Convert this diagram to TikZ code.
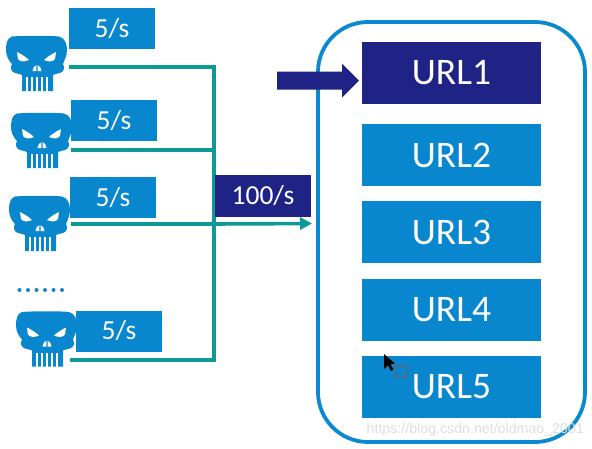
\documentclass[tikz,border=0pt]{standalone}
\usepackage{fontspec}
\setmainfont{Carlito}
\setsansfont{Liberation Sans}
\usetikzlibrary{arrows.meta}
\definecolor{bluebox}{HTML}{0887CE}
\definecolor{navybox}{HTML}{1F2385}
\definecolor{tealline}{HTML}{0D9A96}
\definecolor{frameblue}{HTML}{0A88D0}
\tikzset{
  x=1pt,y=-1pt,
  ratebox/.style={fill=bluebox,draw=none,minimum width=86pt,minimum height=41pt,inner sep=0pt,text=white,font=\fontsize{27.5}{30}\selectfont},
  urlbox/.style={fill=bluebox,draw=none,minimum width=179pt,minimum height=62pt,inner sep=0pt,text=white,font=\fontsize{37.5}{40}\selectfont},
  tealwire/.style={draw=tealline,line width=3.6pt},
  skull/.pic={
    \fill[bluebox] (6,0.5) .. controls (18,-0.5) and (44,-0.5) .. (53,0.5)
      .. controls (59,2) and (61,8) .. (61,14)
      .. controls (61,20) and (58,25) .. (57,28)
      .. controls (59,31) and (58,36) .. (54,37)
      .. controls (51,38) and (48,38) .. (47,39)
      -- (47,55) -- (16,55) -- (16,39)
      .. controls (15,38) and (12,38) .. (9,37)
      .. controls (5,36) and (4,31) .. (6,28)
      .. controls (3,25) and (0,20) .. (0,14)
      .. controls (0,8) and (1,2) .. (6,0.5) -- cycle;
    \fill[white] (11,16) .. controls (15,18) and (20,21) .. (23,24) .. controls (19,26) and (14,26) .. (12,23) -- cycle;
    \fill[white] (50,16) .. controls (46,18) and (41,21) .. (38,24) .. controls (42,26) and (47,26) .. (49,23) -- cycle;
    \fill[white] (30.3,29) -- (30.3,35) -- (26.5,35) .. controls (26.5,33) and (28,30) .. (30.3,29) -- cycle;
    \fill[white] (31.7,29) -- (31.7,35) -- (35.5,35) .. controls (35.5,33) and (34,30) .. (31.7,29) -- cycle;
    \foreach \tx in {21,26,31,36,41}{\fill[white] (\tx-0.7,41) rectangle (\tx+0.7,55.5);}
  }
}
\begin{document}
\begin{tikzpicture}
\useasboundingbox (0,0) rectangle (592,448);
\fill[white] (0,0) rectangle (592,448);

% outer frame
\node[draw=frameblue,line width=3.8pt,rounded corners=50pt,minimum width=267pt,minimum height=420pt,inner sep=0pt] (frame) at (451.5,232) {};

% wires
\coordinate (w1) at (69,67);
\coordinate (w2) at (71,150);
\coordinate (w3) at (71,224);
\coordinate (w4) at (70,360);
\coordinate (j1) at (214,67);
\coordinate (j2) at (214,150);
\coordinate (j3) at (214,224);
\coordinate (j4) at (214,360);
\coordinate (out) at (312,223.5);
\draw[tealwire,line join=miter] (w1) -- (j1) -- (j4) -- (w4);
\draw[tealwire] (w2) -- (j2);
\draw[tealwire] (w3) -- (j3);
\draw[tealline,line width=3.6pt,-{Triangle[length=12pt,width=12pt]}] (j3) -- (out);

% skulls
\pic at (6,36) {skull};
\pic at (11,113) {skull};
\pic at (9,196) {skull};
\pic at (16,311.5) {skull};

% rate boxes
\node[ratebox] (r1) at (112,28.5) {5/s};
\node[ratebox] (r2) at (114,120.5) {5/s};
\node[ratebox] (r3) at (113,197.5) {5/s};
\node[ratebox] (r4) at (119,331) {5/s};
\node[ratebox,fill=navybox,minimum width=96pt,minimum height=42pt] (total) at (263,196) {100/s};

% dots
\foreach \dx in {19.5,28,36.5,45,53.5,62}{\fill[frameblue] (\dx,290) circle (2pt);}

% url boxes
\node[urlbox,fill=navybox] (u1) at (451.5,73) {URL1};
\node[urlbox] (u2) at (451.5,155) {URL2};
\node[urlbox] (u3) at (451.5,232) {URL3};
\node[urlbox] (u4) at (451.5,310) {URL4};
\node[urlbox] (u5) at (451.5,387) {URL5};

% big arrow
\coordinate (as) at (277,80.5);
\fill[navybox] (as) ++(0,-9) -- ++(65,0) -- ++(0,-8) -- (359,80.5) -- (342,97.5) -- (342,89.5) -- (277,89.5) -- cycle;

% cursor
\fill[black] (384,354) -- (384,369) -- (388,365.5) -- (391,371) -- (393.5,369.5) -- (390.5,364.5) -- (395,363.5) -- cycle;
\draw[black!60,dash pattern=on 1.6pt off 1pt,line width=1.1pt] (395,366) -- (407,366) -- (407,377) -- (395,377) -- cycle;

% watermark
\node[anchor=east,inner sep=0pt,text=black!13,font=\sffamily\fontsize{14.2}{16}\selectfont] (wm) at (584,430) {https://blog.csdn.net/oldmao\_2001};
\end{tikzpicture}
\end{document}
